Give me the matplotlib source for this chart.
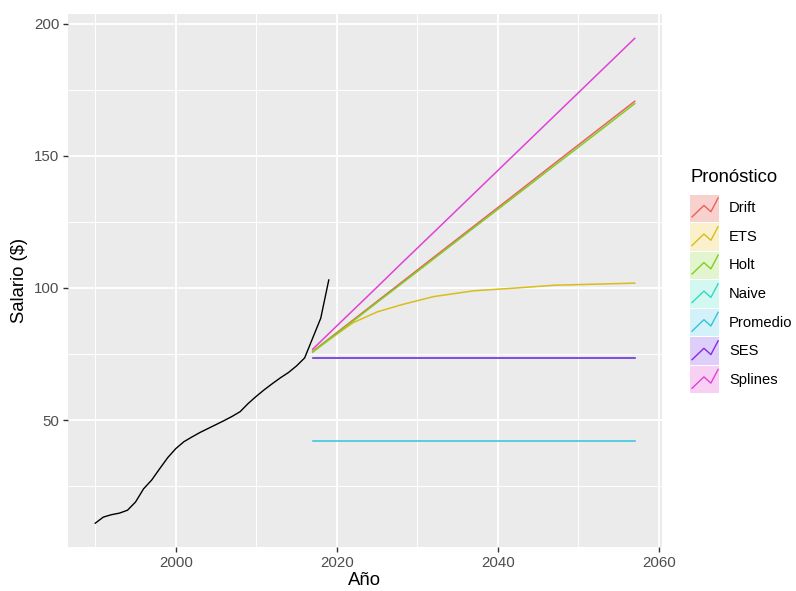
import matplotlib.pyplot as plt
from matplotlib.patches import Rectangle

# historical salary series
hist_years = list(range(1990, 2020))
hist_vals = [11.0, 13.3, 14.2, 14.8, 15.9, 19.0, 24.0, 27.3, 31.6, 35.8,
             39.2, 41.8, 43.6, 45.3, 46.8, 48.3, 49.8, 51.4, 53.2, 56.3,
             59.0, 61.5, 63.8, 66.0, 68.0, 70.5, 73.5, 81.0, 88.5, 103.0]

# forecasts
fc_years = [2017, 2019, 2022, 2025, 2028, 2032, 2037, 2042, 2047, 2052, 2057]
drift = [76.0, 80.7, 87.8, 94.9, 102.0, 111.5, 123.3, 135.1, 147.0, 158.8, 170.6]
ets = [75.8, 80.3, 86.8, 90.9, 93.6, 96.7, 98.9, 99.9, 101.0, 101.4, 101.8]
holt = [75.7, 80.4, 87.4, 94.5, 101.5, 110.9, 122.7, 134.4, 146.2, 157.9, 169.7]
naive = [73.4] * len(fc_years)
promedio = [42.2] * len(fc_years)
ses = [73.4] * len(fc_years)
splines = [76.8, 82.7, 91.5, 100.3, 109.2, 120.9, 135.6, 150.3, 165.0, 179.7, 194.4]

labels = ['Drift', 'ETS', 'Holt', 'Naive', 'Promedio', 'SES', 'Splines']
series = [drift, ets, holt, naive, promedio, ses, splines]
colors = ['#E8625C', '#D9BD1A', '#7FCF22', '#2FDCC0', '#2EC4DE', '#8A28E4', '#E042D6']
fills = ['#F8D0CE', '#FAF0CC', '#E3F5CF', '#D3F8F1', '#D3F1F8', '#DDCFF9', '#F8D0F4']

plt.rcParams['font.family'] = ['Liberation Sans', 'DejaVu Sans']

fig = plt.figure(figsize=(7.96, 5.91), dpi=100)
ax = fig.add_axes([0.0858, 0.0745, 0.7455, 0.9018])
ax.set_facecolor('#EBEBEB')

ax.plot(hist_years, hist_vals, color='black', lw=1.0, zorder=3)
for vals, c in zip(series, colors):
    ax.plot(fc_years, vals, color=c, lw=1.1, zorder=3)

ax.set_xlim(1986.65, 2060.35)
ax.set_ylim(2.0, 203.6)
ax.set_xticks([2000, 2020, 2040, 2060])
ax.set_xticks([1990, 2010, 2030, 2050], minor=True)
ax.set_yticks([50, 100, 150, 200])
ax.set_yticks([25, 75, 125, 175], minor=True)
ax.grid(which='major', color='white', lw=1.3)
ax.grid(which='minor', color='white', lw=0.7)
ax.set_axisbelow(True)
for s in ax.spines.values():
    s.set_visible(False)
ax.tick_params(which='major', length=3.5, width=1.0, color='#333333',
               labelcolor='#4D4D4D', labelsize=10.8, pad=3)
ax.tick_params(which='minor', length=0)

fig.text(20 / 796, 0.5255, 'Salario ($)', fontsize=13.3, rotation=90,
         ha='center', va='center')
fig.text(0.4575, 0.003, 'Año', fontsize=13.3, ha='center', va='bottom')

# legend drawn by hand to mimic the ggplot keys
fig.text(690 / 796, 1 - 178 / 591, 'Pronóstico', fontsize=13.3, va='center', ha='left')
lax = fig.add_axes([690 / 796, 1 - 394 / 591, 29 / 796, 200 / 591])
lax.set_xlim(0, 1)
lax.set_ylim(len(labels), 0)
lax.axis('off')
for i, (lab, c, f) in enumerate(zip(labels, colors, fills)):
    lax.add_patch(Rectangle((0, i + 0.02), 1, 0.96, facecolor=f, edgecolor='none'))
    lax.plot([0.07, 0.48, 0.72, 0.97], [i + 0.8, i + 0.4, i + 0.62, i + 0.14],
             color=c, lw=1.0)
    lax.text(1.34, i + 0.5, lab, fontsize=10.6, va='center', ha='left',
             transform=lax.transData, clip_on=False)

plt.savefig('out.png', dpi=100)
